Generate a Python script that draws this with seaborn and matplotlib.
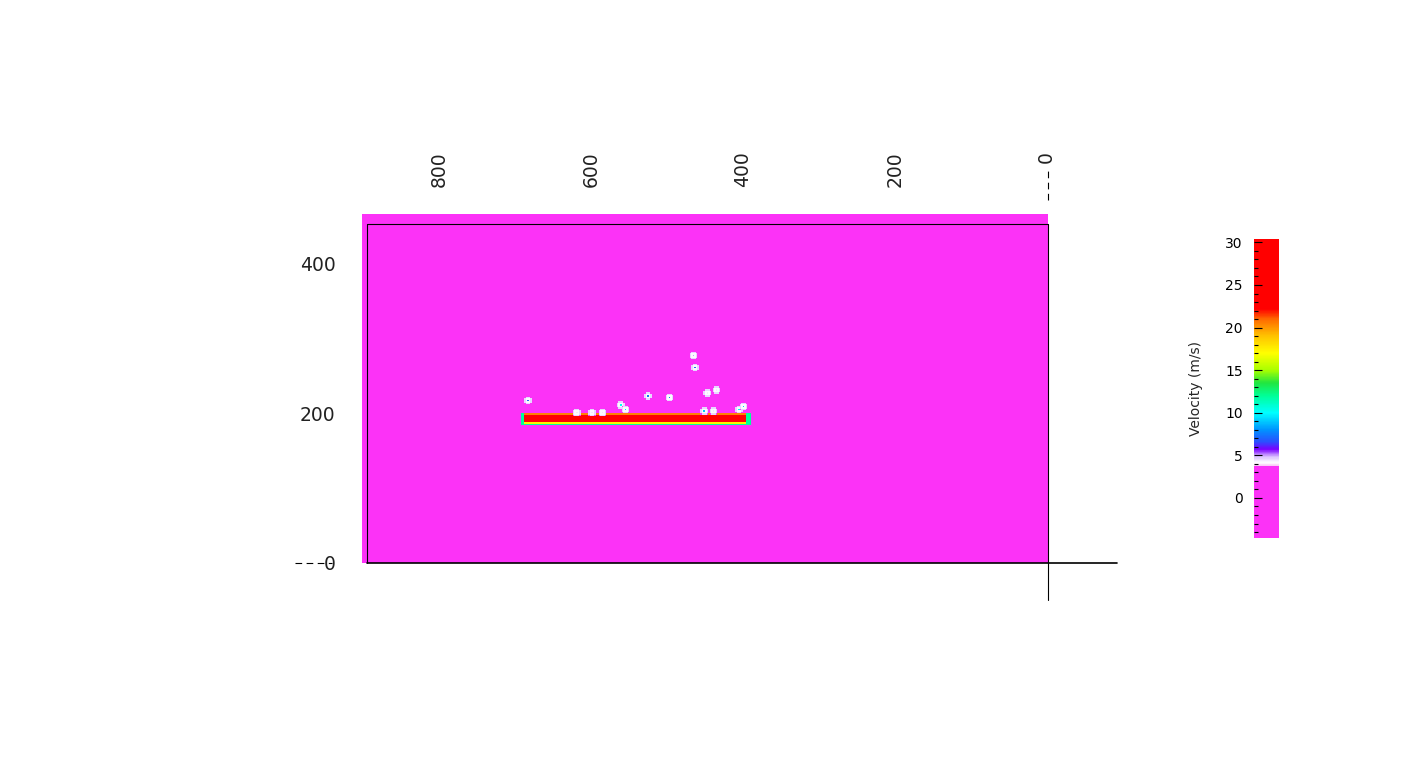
import numpy as np
import pandas as pd
import seaborn as sns
import matplotlib.pyplot as plt
from matplotlib.colors import LinearSegmentedColormap

# grid of the velocity field (units of the axes), 2 x 2 cells
x_max, y_max, cell = 902, 466, 2
background_v = 0.0

# the bar: horizontal extent and row profile (bottom of each row, velocity)
bar_x = [393, 690]
bar_row_y = [184, 186, 188, 190, 192, 194, 196, 198]
bar_row_v = [12.0, 17.5, 23.5, 28.0, 28.5, 28.5, 27.0, 20.5]
bar_end_v = 12.0

# small spots above the bar: centre, velocity in the middle
blob_x = [684, 466, 464, 526, 498, 447, 436, 562, 556, 600, 585, 620, 452, 440, 405, 399]
blob_y = [217, 278, 262, 223, 221, 227, 232, 212, 205, 202, 202, 202, 203, 204, 205, 209]
blob_v = [7.0, 5.0, 7.0, 7.5, 7.5, 4.4, 4.4, 10.0, 9.5, 4.4, 4.4, 4.4, 9.0, 4.4, 10.0, 9.0]

tick_x = [800, 600, 400, 200, 0]
tick_y = [0, 200, 400]
cbar_ticks = [0, 5, 10, 15, 20, 25, 30]
v_min, v_max = -4.7, 30.4

# colour table (velocity, colour)
cmap_v = [-4.7, 3.72, 3.78, 4.1, 4.8, 5.7, 6.6, 8.0, 10.0, 12.0, 13.5, 15.0, 17.0, 19.0, 21.0, 22.2, 30.4]
cmap_c = ['#fc32f7', '#fc32f7', '#f8c8f6', '#ffffff', '#dcc4ff', '#7a00ff', '#2a50ff',
          '#0094ff', '#00ffff', '#00ff98', '#20e640', '#a8ff00', '#ffff00', '#ffc400',
          '#ff6a00', '#ff0000', '#ff0000']

# ---- build field
nx, ny = x_max // cell + 1, y_max // cell
xc = x_max - cell * (np.arange(nx) + 0.5)
yc = y_max - cell * (np.arange(ny) + 0.5)
field = np.full((ny, nx), background_v)

in_bar_x = (xc >= bar_x[0]) & (xc <= bar_x[1])
for yb, v in zip(bar_row_y, bar_row_v):
    rows = (yc >= yb) & (yc < yb + cell)
    field[np.ix_(rows, in_bar_x)] = v
bar_rows = (yc >= bar_row_y[0]) & (yc < bar_row_y[-1] + cell)
for xe in bar_x:
    cols = np.abs(xc - xe) < 2.5
    field[np.ix_(bar_rows, cols)] = bar_end_v

for bx, by, bv in zip(blob_x, blob_y, blob_v):
    i = int((y_max - by) // cell)
    j = int((x_max - bx) // cell)
    field[i - 2:i + 3, j - 2:j + 3] = 4.6
    field[i - 2, j - 2] = background_v
    field[i + 2, j + 2] = background_v
    field[i - 2, j + 2] = background_v
    field[i + 2, j - 2] = background_v
    field[i - 1:i + 2, j - 1:j + 2] = 4.2
    field[i, j] = bv

df = pd.DataFrame(field, index=np.round(yc, 1), columns=np.round(xc, 1))

pos = [(v - v_min) / (v_max - v_min) for v in cmap_v]
cmap = LinearSegmentedColormap.from_list('vel', list(zip(pos, cmap_c)), N=512)

# ---- plot
sns.set_theme(style="white")
plt.rcParams['font.family'] = ['DejaVu Sans']
fig = plt.figure(figsize=(14.11, 7.78), dpi=100)
ax = fig.add_axes([362 / 1411, 1 - 563 / 778, 686 / 1411, 349 / 778])
cax = fig.add_axes([1254 / 1411, 1 - 538 / 778, 25 / 1411, 299 / 778])

sns.heatmap(df, ax=ax, cmap=cmap, vmin=v_min, vmax=v_max, cbar_ax=cax,
            xticklabels=False, yticklabels=False, rasterized=True,
            cbar_kws={'ticks': cbar_ticks})

ax.set_xticks([(x_max - t) / cell for t in tick_x])
ax.set_xticklabels([str(t) for t in tick_x], rotation=90, fontsize=13.5,
                   color='#222222', va='top')
ax.set_yticks([(y_max - t) / cell for t in tick_y])
ax.set_yticklabels([str(t) for t in tick_y], fontsize=13.5, color='#222222')
ax.xaxis.tick_top()
ax.tick_params(axis='x', length=0, pad=45)
ax.tick_params(axis='y', length=0, pad=19)
ax.set_xlabel('')
ax.set_ylabel('')

# frame drawn the way the viewer does it
tf = ax.transAxes
fx0 = 5 / 686
fy1 = 339 / 349
ax.plot([fx0, fx0], [0, fy1], color='black', lw=0.8, transform=tf, clip_on=False)
ax.plot([fx0, 1], [fy1, fy1], color='black', lw=0.8, transform=tf, clip_on=False)
ax.plot([1, 1], [-37 / 349, fy1], color='black', lw=0.8, transform=tf, clip_on=False)
ax.plot([fx0, 755 / 686], [0, 0], color='black', lw=1.2, transform=tf, clip_on=False)
ax.plot([1, 1], [363 / 349, 396 / 349], color='black', lw=0.8, ls=(0, (6, 4)),
        transform=tf, clip_on=False)
ax.plot([-67 / 686, -30 / 686], [0, 0], color='black', lw=0.8, ls=(0, (6, 4)),
        transform=tf, clip_on=False)

# colour bar
cax.set_axisbelow(False)
cax.yaxis.set_ticks_position('left')
cax.yaxis.set_label_position('left')
cax.set_yticks(np.arange(-4, 31, 1), minor=True)
cax.tick_params(axis='y', which='major', direction='in', length=6, width=0.8,
                labelsize=10, pad=8, colors='black', left=True)
cax.tick_params(axis='y', which='minor', direction='in', length=3, width=0.8,
                left=True, colors='black')
cax.set_ylabel('Velocity (m/s)', fontsize=10, labelpad=16)

fig.savefig('out.png', dpi=100)
